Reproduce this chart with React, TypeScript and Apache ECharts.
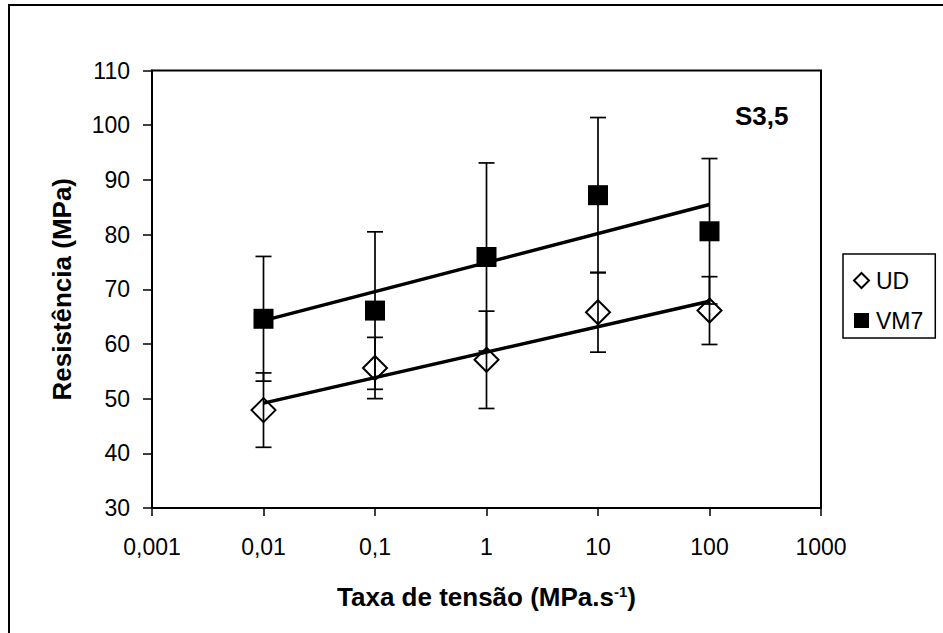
import React, { useEffect, useRef } from "react";
import * as echarts from "echarts";

const xValues = [0.01, 0.1, 1, 10, 100];
const udMean = [47.9, 55.6, 57.1, 65.8, 66.1];
const udErr = [6.8, 5.6, 8.9, 7.3, 6.2];
const vm7Mean = [64.6, 66.1, 75.9, 87.2, 80.6];
const vm7Err = [11.4, 14.4, 17.2, 14.2, 13.3];
const seriesNames = ["UD", "VM7"];
const yTicks = { min: 30, max: 110, interval: 10 };
const xRange = { min: 0.001, max: 1000 };
const annotation = "S3,5";

const FONT = "'Liberation Sans', Arial, Helvetica, sans-serif";

function logFit(xs: number[], ys: number[]) {
  const lx = xs.map((x) => Math.log10(x));
  const n = xs.length;
  const mx = lx.reduce((a, b) => a + b, 0) / n;
  const my = ys.reduce((a, b) => a + b, 0) / n;
  let sxy = 0;
  let sxx = 0;
  for (let i = 0; i < n; i++) {
    sxy += (lx[i] - mx) * (ys[i] - my);
    sxx += (lx[i] - mx) * (lx[i] - mx);
  }
  const slope = sxy / sxx;
  const icpt = my - slope * mx;
  const ends = [xs[0], xs[n - 1]];
  return ends.map((x) => [x, icpt + slope * Math.log10(x)]);
}

function errData(xs: number[], m: number[], e: number[]) {
  return xs.map((x, i) => [x, m[i] - e[i], m[i] + e[i]]);
}

const renderErr = (params: any, api: any) => {
  const x = api.value(0);
  const lo = api.coord([x, api.value(1)]);
  const hi = api.coord([x, api.value(2)]);
  const cw = 8;
  const style = { stroke: "#000", lineWidth: 1.7 };
  return {
    type: "group",
    children: [
      { type: "line", shape: { x1: lo[0], y1: lo[1], x2: hi[0], y2: hi[1] }, style },
      { type: "line", shape: { x1: lo[0] - cw, y1: lo[1], x2: lo[0] + cw, y2: lo[1] }, style },
      { type: "line", shape: { x1: hi[0] - cw, y1: hi[1], x2: hi[0] + cw, y2: hi[1] }, style },
    ],
  };
};

export default function App() {
  const ref = useRef<HTMLDivElement>(null);
  useEffect(() => {
    if (!ref.current) return;
    const chart = echarts.init(ref.current, null, { renderer: "svg" });
    const fmt = (v: number) => String(Number(v.toPrecision(6))).replace(".", ",");
    chart.setOption({
      animation: false,
      backgroundColor: "#fff",
      textStyle: { fontFamily: FONT, color: "#000" },
      grid: {
        left: 152,
        top: 70.5,
        right: 122,
        bottom: 125,
        show: true,
        borderColor: "#000",
        borderWidth: 2,
        backgroundColor: "transparent",
      },
      legend: {
        data: [
          { name: seriesNames[0], icon: "diamond" },
          { name: seriesNames[1], icon: "rect" },
        ],
        orient: "vertical",
        left: 843,
        top: 254,
        padding: [15, 12, 6, 10],
        itemWidth: 15,
        itemHeight: 15,
        itemGap: 17,
        textStyle: { fontSize: 23, color: "#000", fontFamily: FONT, padding: [0, 0, 0, 2] },
        borderColor: "#000",
        borderWidth: 1.5,
        backgroundColor: "#fff",
        selectedMode: false,
      },
      xAxis: {
        type: "log",
        logBase: 10,
        min: xRange.min,
        max: xRange.max,
        name: "Taxa de tensão (MPa.s{sup|-1})",
        nameLocation: "middle",
        nameGap: 76,
        nameTextStyle: {
          fontSize: 26,
          fontWeight: "bold",
          color: "#000",
          fontFamily: FONT,
          rich: {
            sup: { fontSize: 15, fontWeight: "bold", verticalAlign: "top", fontFamily: FONT, color: "#000" },
          },
        },
        axisLine: { lineStyle: { color: "#000", width: 2 } },
        axisTick: { show: true, length: 8, lineStyle: { color: "#000", width: 1.5 } },
        axisLabel: { fontSize: 23, color: "#000", margin: 27, formatter: fmt, fontFamily: FONT },
        splitLine: { show: false },
        minorTick: { show: false },
      },
      yAxis: {
        type: "value",
        min: yTicks.min,
        max: yTicks.max,
        interval: yTicks.interval,
        name: "Resistência (MPa)",
        nameLocation: "middle",
        nameRotate: 90,
        nameGap: 77,
        nameTextStyle: { fontSize: 26, fontWeight: "bold", color: "#000", fontFamily: FONT },
        axisLine: { show: true, lineStyle: { color: "#000", width: 2 } },
        axisTick: { show: true, length: 9, lineStyle: { color: "#000", width: 1.5 } },
        axisLabel: { fontSize: 23, color: "#000", margin: 22, fontFamily: FONT },
        splitLine: { show: false },
      },
      graphic: [
        {
          type: "rect",
          shape: { x: 9, y: 5, width: 2000, height: 2000 },
          style: { fill: "none", stroke: "#000", lineWidth: 2 },
          silent: true,
          z: -1,
        },
        {
          type: "text",
          left: 735,
          top: 103,
          style: { text: annotation, fontSize: 26, fontWeight: "bold", fill: "#000", fontFamily: FONT },
        },
      ],
      series: [
        {
          name: "UD trend",
          type: "line",
          data: logFit(xValues, udMean),
          showSymbol: false,
          symbol: "none",
          lineStyle: { color: "#000", width: 3.5 },
          z: 2,
          silent: true,
        },
        {
          name: "VM7 trend",
          type: "line",
          data: logFit(xValues, vm7Mean),
          showSymbol: false,
          symbol: "none",
          lineStyle: { color: "#000", width: 3.5 },
          z: 2,
          silent: true,
        },
        {
          name: "UD err",
          type: "custom",
          renderItem: renderErr,
          data: errData(xValues, udMean, udErr),
          z: 3,
          silent: true,
        },
        {
          name: "VM7 err",
          type: "custom",
          renderItem: renderErr,
          data: errData(xValues, vm7Mean, vm7Err),
          z: 3,
          silent: true,
        },
        {
          name: seriesNames[0],
          type: "scatter",
          symbol: "diamond",
          symbolSize: [24, 24],
          data: xValues.map((x, i) => [x, udMean[i]]),
          itemStyle: { color: "rgba(255,255,255,0)", borderColor: "#000", borderWidth: 2, opacity: 1 },
          z: 4,
        },
        {
          name: seriesNames[1],
          type: "scatter",
          symbol: "rect",
          symbolSize: 20,
          data: xValues.map((x, i) => [x, vm7Mean[i]]),
          itemStyle: { color: "#000", borderColor: "#000", borderWidth: 0, opacity: 1 },
          z: 4,
        },
      ],
    });
    return () => chart.dispose();
  }, []);
  return (
    <div
      ref={ref}
      style={{ position: "fixed", left: 0, top: 0, width: 943, height: 633, background: "#fff" }}
    />
  );
}
